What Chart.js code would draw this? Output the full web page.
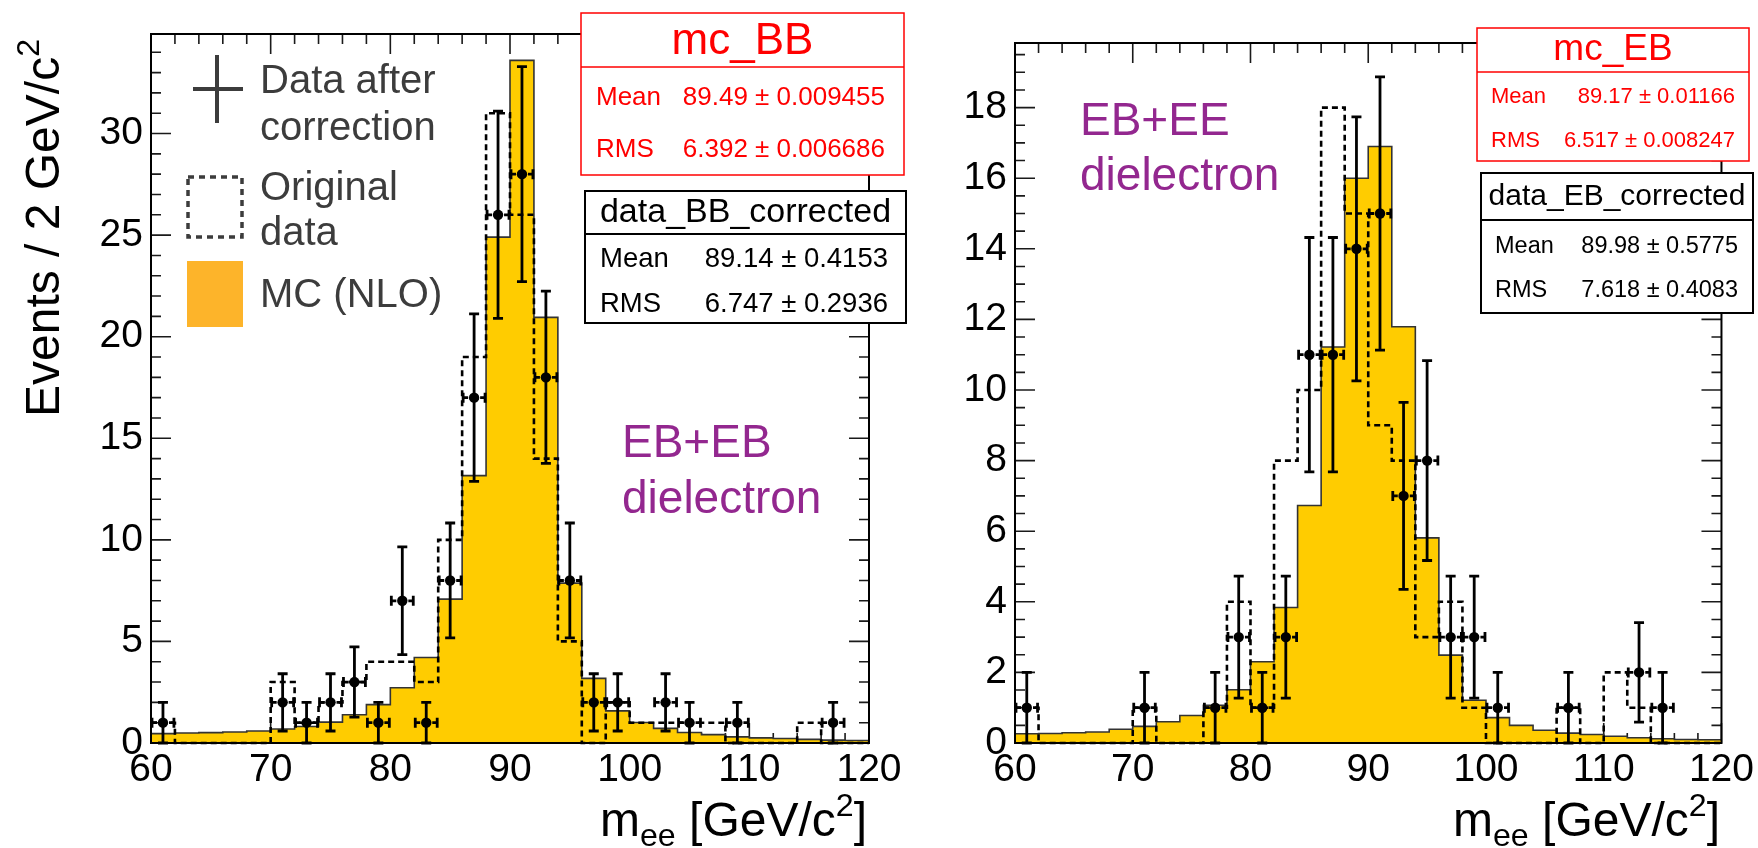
<!DOCTYPE html>
<html>
<head>
<meta charset="utf-8">
<script src="https://cdn.jsdelivr.net/npm/chart.js@4/dist/chart.umd.min.js"></script>
<style>
    html, body { margin: 0; padding: 0; background: #fff; }
    body { width: 1758px; height: 848px; position: relative; overflow: hidden; }
    canvas { position: absolute; top: 0; }
    #bb { left: 0; }
    #eb { left: 940px; }
</style>
</head>
<body>
<canvas id="bb" width="940" height="848"></canvas>
<canvas id="eb" width="818" height="848"></canvas>
<script>
const FONT = '"Liberation Sans", Arial, Helvetica, sans-serif';

// 2 GeV bins, lower edges
const binLow = [60, 62, 64, 66, 68, 70, 72, 74, 76, 78, 80, 82, 84, 86, 88, 90, 92, 94, 96, 98, 100, 102, 104, 106, 108, 110, 112, 114, 116, 118];
const binWidth = 2;
const xMin = 60, xMax = 120;
const xTicks = [60, 70, 80, 90, 100, 110, 120];

// EB+EB dielectron
const mcBB = [0.46, 0.49, 0.51, 0.54, 0.59, 0.69, 0.81, 1.03, 1.39, 1.89, 2.72, 4.21, 7.08, 13.16, 24.9, 33.6, 20.95, 7.87, 3.18, 1.58, 1.01, 0.72, 0.52, 0.41, 0.3, 0.25, 0.22, 0.18, 0.14, 0.12];
const origBB = [1, 0, 0, 0, 0, 3, 1, 2, 3, 4, 4, 3, 10, 19, 31, 26, 14, 5, 0, 2, 1, 1, 1, 1, 0, 0, 0, 1, 0, 0];
const dataBB = [1, 0, 0, 0, 0, 2, 1, 2, 3, 1, 7, 1, 8, 17, 26, 28, 18, 8, 2, 2, 0, 2, 1, 0, 1, 0, 0, 0, 1, 0];
const errBB = [1, 0, 0, 0, 0, 1.41, 1, 1.41, 1.73, 1, 2.65, 1, 2.83, 4.12, 5.1, 5.29, 4.24, 2.83, 1.41, 1.41, 0, 1.41, 1, 0, 1, 0, 0, 0, 1, 0];
const yTicksBB = [0, 5, 10, 15, 20, 25, 30];
const mcStatsBB = ['89.49 ± 0.009455', '6.392 ± 0.006686'];
const dataStatsBB = ['89.14 ± 0.4153', '6.747 ± 0.2936'];

// EB+EE dielectron
const mcEB = [0.26, 0.27, 0.29, 0.31, 0.39, 0.47, 0.6, 0.78, 1.07, 1.51, 2.3, 3.84, 6.73, 11.22, 16.0, 16.9, 11.79, 5.81, 2.49, 1.21, 0.72, 0.5, 0.36, 0.28, 0.24, 0.19, 0.15, 0.12, 0.1, 0.09];
const origEB = [1, 0, 0, 0, 0, 1, 0, 0, 1, 4, 1, 8, 10, 18, 15, 9, 8, 3, 4, 1, 0, 0, 0, 1, 0, 2, 1, 0, 0, 0];
const dataEB = [1, 0, 0, 0, 0, 1, 0, 0, 1, 3, 1, 3, 11, 11, 14, 15, 7, 8, 3, 3, 1, 0, 0, 1, 0, 0, 2, 1, 0, 0];
const errEB = [1, 0, 0, 0, 0, 1, 0, 0, 1, 1.73, 1, 1.73, 3.32, 3.32, 3.74, 3.87, 2.65, 2.83, 1.73, 1.73, 1, 0, 0, 1, 0, 0, 1.41, 1, 0, 0];
const yTicksEB = [0, 2, 4, 6, 8, 10, 12, 14, 16, 18];
const mcStatsEB = ['89.17 ± 0.01166', '6.517 ± 0.008247'];
const dataStatsEB = ['89.98 ± 0.5775', '7.618 ± 0.4083'];

const statLabels = ['Mean', 'RMS'];

function histPoints(values) {
    const pts = binLow.map((x, i) => ({ x: x, y: values[i] }));
    pts.push({ x: xMax, y: values[values.length - 1] });
    return pts;
}

function dataPoints(values, errs) {
    return binLow
        .map((x, i) => ({ x: x + binWidth / 2, y: values[i], err: errs[i] }))
        .filter(p => p.y > 0);
}

// draws text made of pieces (normal / sub / sup) on baseline y
function drawRich(ctx, parts, x, y, size, align) {
    let total = 0;
    parts.forEach(p => {
        ctx.font = `${size * (p.s || 1)}px ${FONT}`;
        total += ctx.measureText(p.t).width;
    });
    let cx = align === 'right' ? x - total : x;
    ctx.textAlign = 'left';
    ctx.textBaseline = 'alphabetic';
    parts.forEach(p => {
        ctx.font = `${size * (p.s || 1)}px ${FONT}`;
        ctx.fillText(p.t, cx, y + (p.dy || 0) * size);
        cx += ctx.measureText(p.t).width;
    });
}

function drawStatBox(ctx, b) {
    ctx.save();
    ctx.fillStyle = '#fff';
    ctx.fillRect(b.x, b.y, b.w, b.h);
    ctx.strokeStyle = b.color;
    ctx.lineWidth = b.lw;
    ctx.setLineDash([]);
    ctx.strokeRect(b.x, b.y, b.w, b.h);
    ctx.beginPath();
    ctx.moveTo(b.x, b.sep);
    ctx.lineTo(b.x + b.w, b.sep);
    ctx.stroke();
    ctx.fillStyle = b.color;
    ctx.textBaseline = 'alphabetic';
    ctx.textAlign = 'center';
    ctx.font = `${b.titleSize}px ${FONT}`;
    ctx.fillText(b.title, b.x + b.w / 2, b.titleBase);
    ctx.font = `${b.rowSize}px ${FONT}`;
    b.values.forEach((v, i) => {
        ctx.textAlign = 'left';
        ctx.fillText(statLabels[i], b.labelX, b.rowBase[i]);
        ctx.textAlign = 'right';
        ctx.fillText(v, b.valueX, b.rowBase[i]);
    });
    ctx.restore();
}

function drawLegend(ctx) {
    const grey = '#3c3c3c';
    ctx.save();
    ctx.strokeStyle = grey;
    ctx.lineWidth = 4;
    ctx.beginPath();
    ctx.moveTo(193, 89); ctx.lineTo(243, 89);
    ctx.moveTo(217, 55); ctx.lineTo(217, 123);
    ctx.stroke();

    ctx.lineWidth = 3.5;
    ctx.setLineDash([6, 5]);
    ctx.strokeRect(188, 177, 54, 60);
    ctx.setLineDash([]);

    ctx.fillStyle = '#FDB42A';
    ctx.fillRect(187, 261, 56, 66);

    ctx.fillStyle = grey;
    ctx.font = `40px ${FONT}`;
    ctx.textAlign = 'left';
    ctx.textBaseline = 'alphabetic';
    ctx.fillText('Data after', 260, 93);
    ctx.fillText('correction', 260, 140);
    ctx.fillText('Original', 260, 200);
    ctx.fillText('data', 260, 245);
    ctx.fillText('MC (NLO)', 260, 307);
    ctx.restore();
}

const xTitleParts = [
    { t: 'm' },
    { t: 'ee', s: 0.67, dy: 0.2 },
    { t: ' [GeV/c' },
    { t: '2', s: 0.67, dy: -0.42 },
    { t: ']' }
];
const yTitleParts = [
    { t: 'Events / 2 GeV/c' },
    { t: '2', s: 0.67, dy: -0.42 }
];

// ticks inside the frame on all four sides, drawn under the histograms
const frameTicks = {
    id: 'frameTicks',
    beforeDatasetsDraw(chart, args, opts) {
        const { ctx, chartArea: a, scales: { x, y } } = chart;
        ctx.save();
        ctx.strokeStyle = '#1a1a1a';
        ctx.lineWidth = 1.6;
        ctx.beginPath();
        const nx = Math.round((xMax - xMin) / opts.xMinor);
        for (let i = 0; i <= nx; i++) {
            const v = xMin + i * opts.xMinor;
            const len = (v % opts.xMajor === 0) ? 20 : 10;
            const px = x.getPixelForValue(v);
            ctx.moveTo(px, a.top); ctx.lineTo(px, a.top + len);
            ctx.moveTo(px, a.bottom); ctx.lineTo(px, a.bottom - len);
        }
        const ny = Math.floor(y.max / opts.yMinor + 1e-6);
        for (let i = 0; i <= ny; i++) {
            const v = i * opts.yMinor;
            const len = (Math.abs(v / opts.yMajor - Math.round(v / opts.yMajor)) < 1e-6) ? 20 : 10;
            const py = y.getPixelForValue(v);
            ctx.moveTo(a.left, py); ctx.lineTo(a.left + len, py);
            ctx.moveTo(a.right, py); ctx.lineTo(a.right - len, py);
        }
        ctx.stroke();
        ctx.restore();
    },
    afterDatasetsDraw(chart) {
        const { ctx, chartArea: a } = chart;
        ctx.save();
        ctx.strokeStyle = '#000';
        ctx.lineWidth = 2;
        ctx.strokeRect(a.left, a.top, a.right - a.left, a.bottom - a.top);
        ctx.restore();
    }
};

// vertical stat error (solid) and bin-width error (dashed) for the data points
const errorBars = {
    id: 'errorBars',
    beforeDatasetDraw(chart, args) {
        const ds = chart.data.datasets[args.index];
        if (!ds.errorBars) return;
        const { ctx, chartArea: a, scales: { x, y } } = chart;
        ctx.save();
        ctx.beginPath();
        ctx.rect(a.left, a.top - 2, a.right - a.left, a.bottom - a.top + 4);
        ctx.clip();
        ctx.strokeStyle = '#000';
        ctx.lineWidth = 2.8;
        ds.data.forEach(p => {
            const px = x.getPixelForValue(p.x);
            const py = y.getPixelForValue(p.y);
            const yHi = y.getPixelForValue(p.y + p.err);
            const yLo = y.getPixelForValue(Math.max(p.y - p.err, 0));
            const xl = x.getPixelForValue(p.x - binWidth / 2);
            const xr = x.getPixelForValue(p.x + binWidth / 2);
            ctx.setLineDash([]);
            ctx.beginPath();
            ctx.moveTo(px, yHi); ctx.lineTo(px, yLo);
            ctx.moveTo(px - 5, yHi); ctx.lineTo(px + 5, yHi);
            ctx.moveTo(px - 5, yLo); ctx.lineTo(px + 5, yLo);
            ctx.moveTo(xl + 1, py - 5); ctx.lineTo(xl + 1, py + 5);
            ctx.moveTo(xr - 1, py - 5); ctx.lineTo(xr - 1, py + 5);
            ctx.stroke();
            ctx.setLineDash([5, 3.5]);
            ctx.beginPath();
            ctx.moveTo(xl + 1, py); ctx.lineTo(xr - 1, py);
            ctx.stroke();
        });
        ctx.restore();
    }
};

// stat boxes, legend, labels and axis titles (positions in page pixels)
const panelText = {
    id: 'panelText',
    afterDraw(chart, args, opts) {
        const ctx = chart.ctx;
        ctx.save();
        ctx.translate(-opts.offsetX, 0);

        ctx.fillStyle = '#000';
        drawRich(ctx, xTitleParts, opts.xTitle.right, opts.xTitle.y, opts.xTitle.size, 'right');

        if (opts.yTitle) {
            ctx.save();
            ctx.translate(opts.yTitle.x, opts.yTitle.y);
            ctx.rotate(-Math.PI / 2);
            drawRich(ctx, yTitleParts, 0, 0, opts.yTitle.size, 'left');
            ctx.restore();
        }

        ctx.fillStyle = '#93278F';
        ctx.font = `${opts.label.size}px ${FONT}`;
        ctx.textAlign = 'left';
        ctx.textBaseline = 'alphabetic';
        opts.label.lines.forEach((t, i) => ctx.fillText(t, opts.label.x, opts.label.y[i]));

        if (opts.legend) drawLegend(ctx);
        opts.boxes.forEach(b => drawStatBox(ctx, b));
        ctx.restore();
    }
};

function makePanel(id, cfg) {
    const canvas = document.getElementById(id);
    const W = canvas.width, H = canvas.height;
    return new Chart(canvas, {
        type: 'line',
        data: {
            datasets: [
                {
                    label: 'Data after correction',
                    data: dataPoints(cfg.data, cfg.err),
                    errorBars: true,
                    showLine: false,
                    pointRadius: 5.2,
                    pointBackgroundColor: '#000',
                    pointBorderWidth: 0,
                    order: 1
                },
                {
                    label: 'Original data',
                    data: histPoints(cfg.orig),
                    stepped: true,
                    borderColor: '#000',
                    borderWidth: 2.6,
                    borderDash: [6, 4],
                    pointRadius: 0,
                    fill: false,
                    clip: 3,
                    order: 2
                },
                {
                    label: 'MC (NLO)',
                    data: histPoints(cfg.mc),
                    stepped: true,
                    borderColor: '#333',
                    borderWidth: 1.6,
                    backgroundColor: '#FFCC00',
                    pointRadius: 0,
                    fill: 'origin',
                    order: 3
                }
            ]
        },
        options: {
            responsive: false,
            animation: false,
            layout: { padding: { left: 0, top: cfg.area.top, right: W - (cfg.area.right - cfg.offsetX), bottom: 0 } },
            plugins: {
                legend: { display: false },
                tooltip: { enabled: false },
                frameTicks: cfg.ticks,
                panelText: cfg.text
            },
            scales: {
                x: {
                    type: 'linear',
                    min: xMin,
                    max: xMax,
                    grid: { display: false, drawTicks: false },
                    border: { display: false },
                    ticks: { font: { family: FONT, size: 39 }, color: '#000', padding: 4, maxRotation: 0, autoSkip: false },
                    afterBuildTicks: s => { s.ticks = xTicks.map(v => ({ value: v })); },
                    afterFit: s => { s.height = H - cfg.area.bottom; }
                },
                y: {
                    type: 'linear',
                    min: 0,
                    max: cfg.yMax,
                    grid: { display: false, drawTicks: false },
                    border: { display: false },
                    ticks: { font: { family: FONT, size: 39 }, color: '#000', padding: 8, autoSkip: false },
                    afterBuildTicks: s => { s.ticks = cfg.yTicks.map(v => ({ value: v })); },
                    afterFit: s => { s.width = cfg.area.left - cfg.offsetX; }
                }
            }
        },
        plugins: [frameTicks, errorBars, panelText]
    });
}

makePanel('bb', {
    offsetX: 0,
    area: { left: 151, right: 869, top: 34, bottom: 743 },
    yMax: 34.9,
    yTicks: yTicksBB,
    mc: mcBB, orig: origBB, data: dataBB, err: errBB,
    ticks: { xMinor: 2, xMajor: 10, yMinor: 1, yMajor: 5 },
    text: {
        offsetX: 0,
        xTitle: { right: 867, y: 836, size: 48 },
        yTitle: { x: 59, y: 417, size: 48 },
        label: { x: 622, y: [457, 513], size: 46, lines: ['EB+EB', 'dielectron'] },
        legend: true,
        boxes: [
            { x: 581, y: 13, w: 323, h: 162, sep: 67, color: '#ff0000', lw: 1.5,
              title: 'mc_BB', titleSize: 44, titleBase: 54,
              rowSize: 26, labelX: 596, valueX: 885, rowBase: [105, 157], values: mcStatsBB },
            { x: 585, y: 191, w: 321, h: 132, sep: 234, color: '#000', lw: 2,
              title: 'data_BB_corrected', titleSize: 34, titleBase: 222,
              rowSize: 27.5, labelX: 600, valueX: 888, rowBase: [267, 312], values: dataStatsBB }
        ]
    }
});

makePanel('eb', {
    offsetX: 940,
    area: { left: 1015, right: 1722, top: 43, bottom: 743 },
    yMax: 19.83,
    yTicks: yTicksEB,
    mc: mcEB, orig: origEB, data: dataEB, err: errEB,
    ticks: { xMinor: 2, xMajor: 10, yMinor: 0.5, yMajor: 2 },
    text: {
        offsetX: 940,
        xTitle: { right: 1720, y: 836, size: 48 },
        yTitle: null,
        label: { x: 1080, y: [135, 190], size: 46, lines: ['EB+EE', 'dielectron'] },
        legend: false,
        boxes: [
            { x: 1477, y: 28, w: 272, h: 133, sep: 72, color: '#ff0000', lw: 1.5,
              title: 'mc_EB', titleSize: 37, titleBase: 60,
              rowSize: 22, labelX: 1491, valueX: 1735, rowBase: [103, 147], values: mcStatsEB },
            { x: 1481, y: 173, w: 272, h: 140, sep: 220, color: '#000', lw: 2,
              title: 'data_EB_corrected', titleSize: 30, titleBase: 205,
              rowSize: 23.5, labelX: 1495, valueX: 1738, rowBase: [253, 297], values: dataStatsEB }
        ]
    }
});
</script>
</body>
</html>
